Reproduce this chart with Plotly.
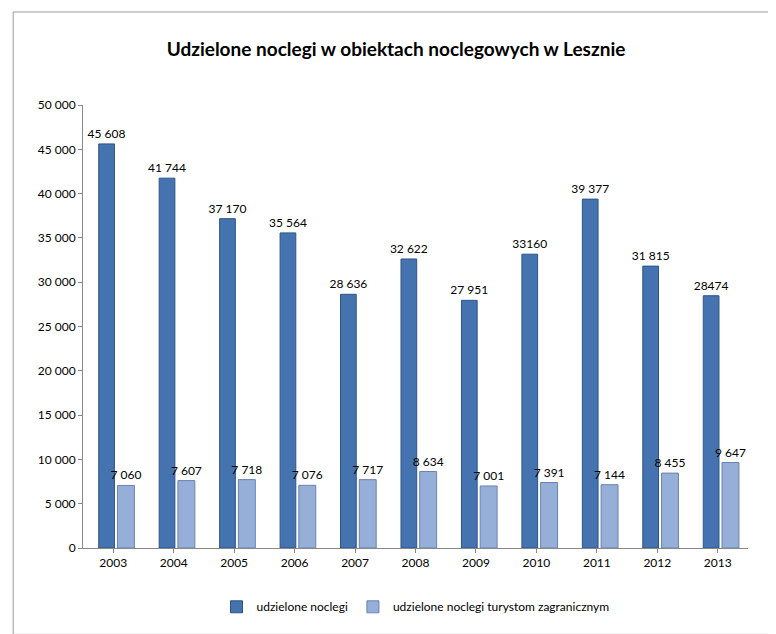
import plotly.graph_objects as go

# Dane
lata = ["2003", "2004", "2005", "2006", "2007", "2008", "2009", "2010", "2011", "2012", "2013"]
noclegi = [45608, 41744, 37170, 35564, 28636, 32622, 27951, 33160, 39377, 31815, 28474]
noclegi_txt = ["45 608", "41 744", "37 170", "35 564", "28 636", "32 622", "27 951", "33160", "39 377", "31 815", "28474"]
zagraniczni = [7060, 7607, 7718, 7076, 7717, 8634, 7001, 7391, 7144, 8455, 9647]
zagraniczni_txt = ["7 060", "7 607", "7 718", "7 076", "7 717", "8 634", "7 001", "7 391", "7 144", "8 455", "9 647"]

fig = go.Figure()

fig.add_trace(go.Bar(
    x=lata, y=noclegi, name="udzielone noclegi",
    marker=dict(color="#4573B0", line=dict(color="#2E5486", width=1)),
    width=0.26, offset=-0.24,
    text=noclegi_txt, textposition="outside", cliponaxis=False,
    constraintext="none", textangle=0,
    textfont=dict(size=12, color="black"),
))

fig.add_trace(go.Bar(
    x=lata, y=zagraniczni, name="udzielone noclegi turystom zagranicznym",
    marker=dict(color="#96AFD9", line=dict(color="#6A83AE", width=1)),
    width=0.28, offset=0.07,
    text=zagraniczni_txt, textposition="outside", cliponaxis=False,
    constraintext="none", textangle=0,
    textfont=dict(size=12, color="black"),
))

fig.update_layout(
    width=776, height=634,
    paper_bgcolor="white", plot_bgcolor="white",
    font=dict(family="Lato, Carlito, sans-serif", size=12, color="black"),
    title=dict(text="<b>Udzielone noclegi w obiektach noclegowych w Lesznie</b>",
               x=0.5, y=0.945, xanchor="center", font=dict(size=19)),
    separators=", ",
    barmode="overlay",
    uniformtext=dict(minsize=12, mode="show"),
    margin=dict(l=75, r=36, t=97, b=94),
    showlegend=True,
    legend=dict(orientation="h", x=0.5, xanchor="center", y=-0.1, yanchor="top",
                font=dict(size=12), itemwidth=30),
    xaxis=dict(showline=True, linecolor="#888", ticks="outside", tickcolor="#888",
               ticklen=4, tickfont=dict(size=12)),
    yaxis=dict(range=[0, 50000], dtick=5000, tickformat=",d", showgrid=False,
               showline=True, linecolor="#888", ticks="outside", tickcolor="#888",
               ticklen=4, tickfont=dict(size=12), zeroline=False),
    shapes=[dict(type="rect", xref="paper", yref="paper", x0=-0.105, x1=1.04,
                 y0=-0.195, y1=1.21, line=dict(color="#999", width=1))],
)

fig.write_html("out.html")
